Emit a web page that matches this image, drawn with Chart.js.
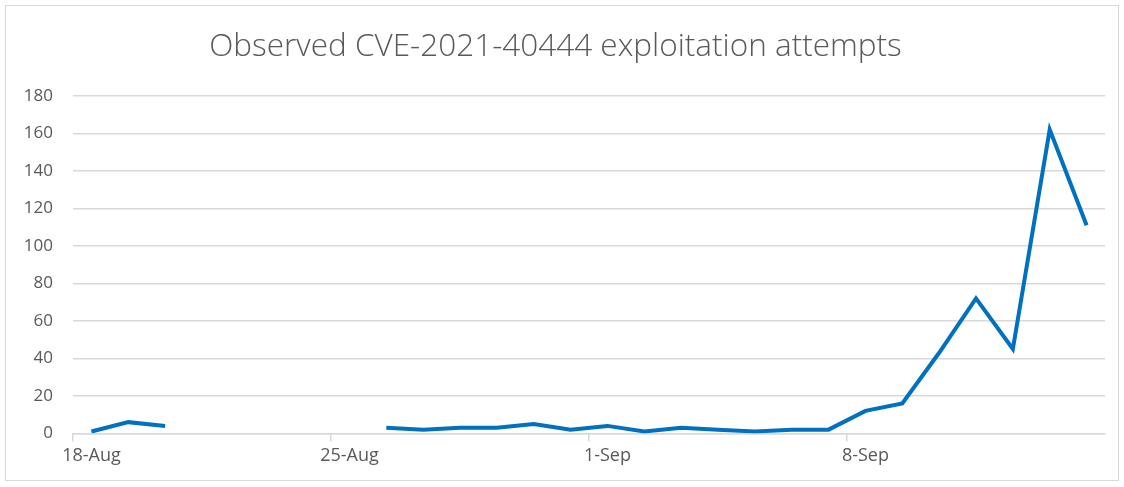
<!DOCTYPE html>
<html>
<head>
<meta charset="utf-8">
<script src="https://cdn.jsdelivr.net/npm/chart.js@4.4.1/dist/chart.umd.min.js"></script>
<style>
  body { margin: 0; background: #fff; }
  #wrap { position: absolute; left: 5px; top: 5px; width: 1114px; height: 476px; border: 1px solid #d9d9d9; box-sizing: border-box; }
  canvas { display: block; }
</style>
</head>
<body>
<div id="wrap"><canvas id="myChart"></canvas></div>
<script>
var days = ["18-Aug","19-Aug","20-Aug","21-Aug","22-Aug","23-Aug","24-Aug","25-Aug","26-Aug","27-Aug",
            "28-Aug","29-Aug","30-Aug","31-Aug","1-Sep","2-Sep","3-Sep","4-Sep","5-Sep","6-Sep",
            "7-Sep","8-Sep","9-Sep","10-Sep","11-Sep","12-Sep","13-Sep","14-Sep"];
var attempts = [1, 6, 4, null, null, null, null, null, 3, 2,
                3, 3, 5, 2, 4, 1, 3, 2, 1, 2,
                2, 12, 16, 43, 72, 45, 162, 111];
var shownLabels = ["18-Aug","25-Aug","1-Sep","8-Sep"];
var yTicks = [0, 20, 40, 60, 80, 100, 120, 140, 160, 180];

var canvas = document.getElementById('myChart');
canvas.width = 1112;
canvas.height = 474;

var ctx = canvas.getContext('2d');
var chart = new Chart(ctx, {
    type: 'line',
    data: {
        labels: days,
        datasets: [
            {
                label: "attempts",
                data: attempts,
                borderColor: "#0070c0",
                backgroundColor: "#0070c0",
                borderWidth: 4,
                pointRadius: 0,
                spanGaps: false,
                tension: 0
            }
        ]
    },
    options: {
        responsive: false,
        animation: false,
        layout: { padding: { left: 0, right: 13, top: 6, bottom: 9 } },
        plugins: {
            legend: { display: false },
            tooltip: { enabled: false },
            title: {
                display: true,
                text: "Observed CVE-2021-40444 exploitation attempts",
                color: "#595959",
                font: { family: "'Open Sans'", size: 31.5, weight: 300 },
                padding: { top: 16, bottom: 30 }
            }
        },
        scales: {
            x: {
                offset: true,
                grid: {
                    offset: true,
                    drawOnChartArea: false,
                    tickLength: 8,
                    color: function (c) { return c.index % 7 === 0 ? "#d9d9d9" : "rgba(0,0,0,0)"; },
                    lineWidth: 1.5
                },
                border: { color: "#d9d9d9", width: 1.5 },
                ticks: {
                    autoSkip: false,
                    maxRotation: 0,
                    color: "#595959",
                    font: { family: "'Open Sans'", size: 18 },
                    padding: 4,
                    callback: function (v, i) {
                        var l = days[i];
                        return shownLabels.indexOf(l) >= 0 ? l : "";
                    }
                }
            },
            y: {
                min: yTicks[0],
                max: yTicks[yTicks.length - 1],
                afterBuildTicks: function (axis) {
                    axis.ticks = yTicks.map(function (v) { return { value: v }; });
                },
                afterFit: function (axis) { axis.width = 67; },
                grid: { color: "#d9d9d9", lineWidth: 1.5, drawTicks: false },
                border: { display: false },
                ticks: {
                    color: "#595959",
                    font: { family: "'Open Sans'", size: 17 },
                    padding: 20
                }
            }
        }
    }
});
</script>
</body>
</html>
